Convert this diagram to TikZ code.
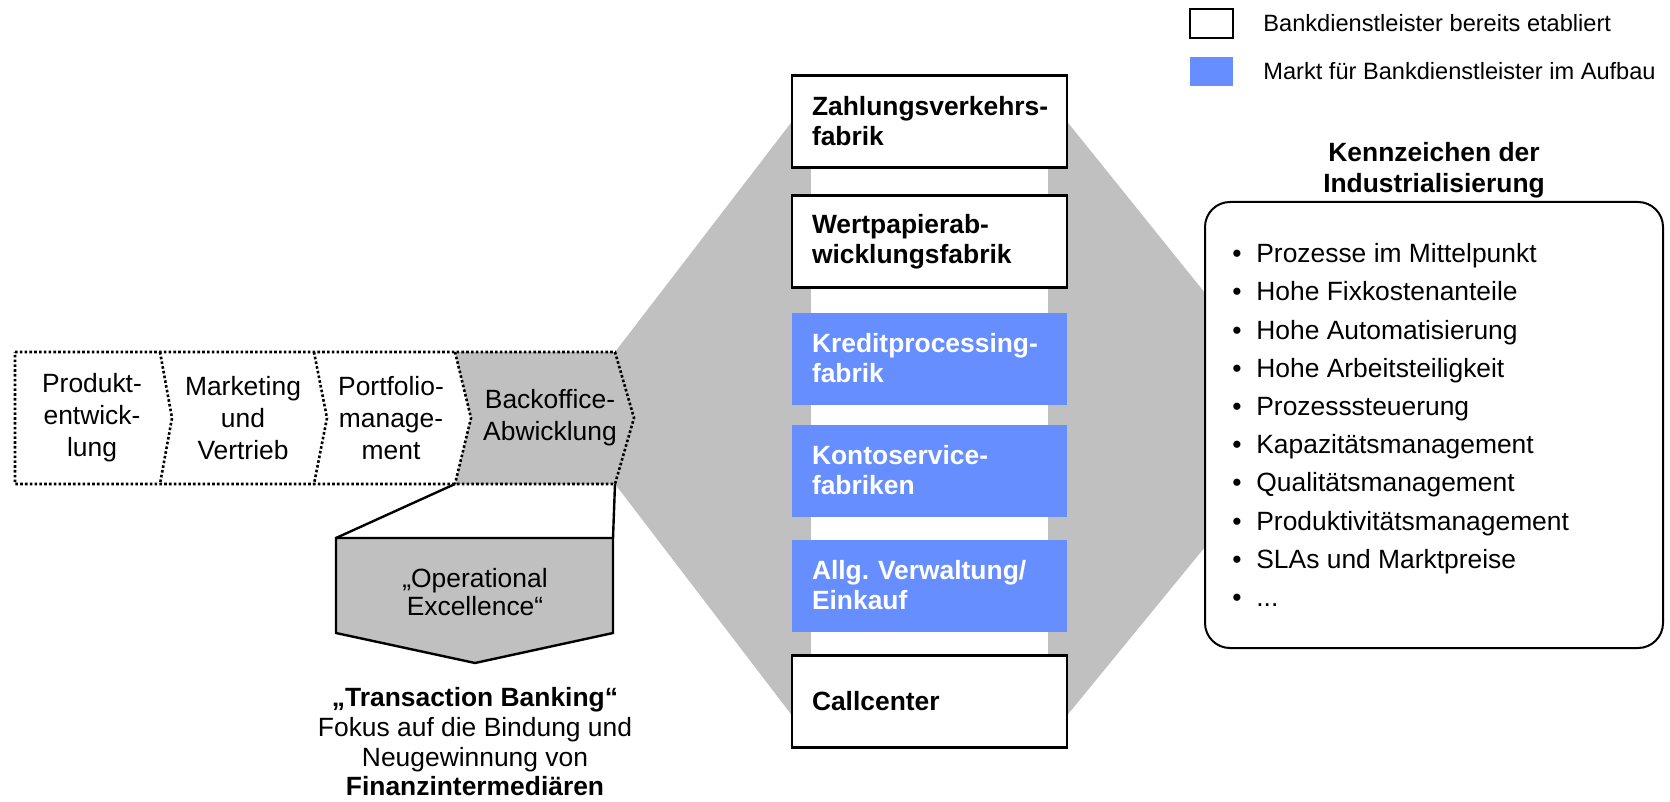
\documentclass[tikz,border=0pt]{standalone}
\usepackage{fontspec}
\setmainfont{Liberation Sans}
\usepackage{xcolor}
\usepackage{tikz}
\usetikzlibrary{positioning, calc, backgrounds}
\hyphenpenalty=10000
\exhyphenpenalty=10000
\definecolor{bankgray}{RGB}{192,192,192}
\definecolor{bankblue}{RGB}{102,142,255}
\newcommand{\kzitem}[1]{\makebox[12pt][l]{\textbullet}#1}
\tikzset{
  stage/.style={draw=black, line width=1.3pt, dash pattern=on 1.3pt off 1.1pt},
  stagetext/.style={align=center, inner sep=0pt, font=\fontsize{13.2}{16}\selectfont},
  outline/.style={draw=black, line width=1.2pt},
  fabrik/.style={rectangle, minimum width=137.5pt, minimum height=46pt, text width=117.5pt, inner xsep=10pt, align=left, outer sep=0pt, font=\fontsize{13.2}{15}\selectfont\bfseries},
  fabrikW/.style={fabrik, draw=black, fill=white, line width=1.25pt},
  fabrikB/.style={fabrik, fill=bankblue, text=white},
  legbox/.style={rectangle, minimum width=21.5pt, minimum height=14.5pt, outer sep=0pt},
  legtext/.style={inner sep=0pt, font=\fontsize{11.8}{14}\selectfont},
  plain/.style={align=center, inner sep=0pt, font=\fontsize{13.2}{14.85}\selectfont},
}

\begin{document}
\begin{tikzpicture}[x=0.5pt, y=-0.5pt]
\useasboundingbox (0,0) rectangle (1670,802);
\fill[bankgray] (455,352) -- (615,352) -- (634,418) -- (615,484) -- (455,484) -- (471,418) -- cycle;
\draw[stage] (15,352) -- (615,352) -- (634,418) -- (615,484) -- (15,484) -- cycle;
\draw[stage] (160,352) -- (172,418) -- (160,484);
\draw[stage] (314,352) -- (327,418) -- (314,484);
\draw[stage] (455,352) -- (471,418) -- (455,484);
\node (produkt)    [stagetext] at (92,418)  {Produkt-\\entwick-\\lung};
\node (marketing)  [stagetext] at (243,418) {Marketing\\und\\Vertrieb};
\node (portfolio)  [stagetext] at (391,418) {Portfolio-\\manage-\\ment};
\node (backoffice) [stagetext] at (550,418) {Backoffice-\\Abwicklung};
\draw[outline] (455,484) -- (336,538);
\draw[outline] (615,484) -- (613,538);
\draw[outline, fill=bankgray] (336,538) -- (613,538) -- (613,633) -- (475,663) -- (336,633) -- cycle;
\node (opex)  [plain, font=\fontsize{13.2}{14}\selectfont] at (475,592) {„Operational\\Excellence“};
\node (trans) [plain] at (475,742) {\textbf{„Transaction Banking“}\\Fokus auf die Bindung und\\Neugewinnung von\\\textbf{Finanzintermediären}};
\node (zv) [fabrikW] at (929.5,121.5)   {Zahlungsverkehrs-\\fabrik};
\node (wp) [fabrikW, below=14pt of zv]  {Wertpapierab-\\wicklungsfabrik};
\node (kr) [fabrikB, below=12.5pt of wp] {Kreditprocessing-\\fabrik};
\node (ko) [fabrikB, below=10pt of kr]   {Kontoservice-\\fabriken};
\node (al) [fabrikB, below=11.5pt of ko] {Allg.\ Verwaltung/\\Einkauf};
\node (cc) [fabrikW, below=12pt of al]   {Callcenter};
\node (kzbox) [draw=black, line width=1pt, rounded corners=12.5pt, minimum width=229pt, minimum height=223pt, outer sep=0pt] at (1434,425) {};
\node (kztitle) [above=2pt of kzbox, align=center, inner sep=0pt, font=\fontsize{13.2}{15.5}\selectfont\bfseries] {Kennzeichen der\\Industrialisierung};
\node (kzlist) [anchor=west, align=left, inner sep=0pt, font=\fontsize{13.2}{19.1}\selectfont] at ($(kzbox.west)+(27,0)$)
  {\kzitem{Prozesse im Mittelpunkt}\\\kzitem{Hohe Fixkostenanteile}\\\kzitem{Hohe Automatisierung}\\\kzitem{Hohe Arbeitsteiligkeit}\\\kzitem{Prozesssteuerung}\\\kzitem{Kapazitätsmanagement}\\\kzitem{Qualitätsmanagement}\\\kzitem{Produktivitätsmanagement}\\\kzitem{SLAs und Marktpreise}\\\kzitem{...}};
\node (legW) [legbox, draw=black, line width=1pt, fill=white] at (1211.5,23.5) {};
\node (legB) [legbox, fill=bankblue, below=9.5pt of legW] {};
\node (legWtext) [legtext, right=15pt of legW] {Bankdienstleister bereits etabliert};
\node (legBtext) [legtext, right=15pt of legB] {Markt für Bankdienstleister im Aufbau};
\begin{scope}[on background layer]
\fill[bankgray] (615,352) -- (zv.west) -- (zv.east) -- ($(kzbox.west)+(0,-132)$) -- ($(kzbox.west)+(0,122)$) -- ($(cc.east)+(0,14)$) -- ($(cc.west)+(0,14)$) -- (615,484) -- cycle;
\fill[white] ($(zv.west)+(19,0)$) rectangle ($(cc.east)+(-19,14)$);
\end{scope}
\end{tikzpicture}
\end{document}
